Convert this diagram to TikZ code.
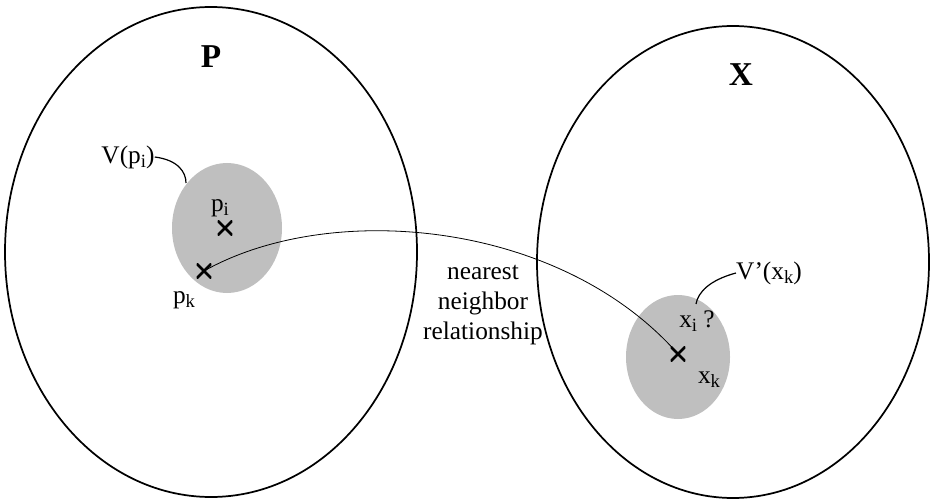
\documentclass[tikz,border=0pt]{standalone}
\usepackage{fontspec}
\setmainfont{Liberation Serif}
\newcommand{\lsub}[1]{\raisebox{-0.35ex}{\fontsize{14}{14}\selectfont #1}}
\begin{document}
\begin{tikzpicture}[x=0.75pt,y=-0.75pt,
  bigset/.style={draw,line width=1.3pt},
  cell/.style={fill=black!25,draw=none},
  lbl/.style={font=\fontsize{19}{22.5}\selectfont,inner sep=0pt},
  title/.style={font=\fontsize{25}{28}\selectfont\bfseries,inner sep=0pt},
  cross/.style={draw=none,inner sep=0pt,minimum size=11pt,path picture={
    \draw[line width=2pt] (path picture bounding box.south west)--(path picture bounding box.north east)
      (path picture bounding box.north west)--(path picture bounding box.south east);}},
  conn/.style={draw,line width=0.6pt}]
\useasboundingbox (0,0) rectangle (934,502);
% big ellipses
\draw[bigset] (211,252) ellipse [x radius=206, y radius=245];
\draw[bigset] (733,262) ellipse [x radius=196, y radius=236];
% gray cells
\fill[cell] (227,228) ellipse [x radius=55, y radius=65];
\fill[cell] (678,357) ellipse [x radius=52, y radius=62];
% crosses
\node[cross] (pi) at (225,228) {};
\node[cross] (pk) at (204,271) {};
\node[cross] (xk) at (678,354) {};
% titles
\node[title] (P) at (211,57) {P};
\node[title] (X) at (741,75) {X};
% labels
\node[lbl] (Vp) at (128,157) {V(p\lsub{i})};
\node[lbl] (pil) at (220,208) {p\lsub{i}};
\node[lbl] (pkl) at (184,300) {p\lsub{k}};
\node[lbl] (Vx) at (769,273) {V’(x\lsub{k})};
\node[lbl] (xil) at (697,321) {x\lsub{i} ?};
\node[lbl] (xkl) at (709,380) {x\lsub{k}};
\node[lbl,align=center] (nn) at (483,305) {nearest\\neighbor\\relationship};
% leaders
\coordinate (c1) at (186,183);
\coordinate (c2) at (696,304);
\draw[conn,line width=0.9pt] (Vp.east) .. controls (178,160) and (186,172) .. (c1);
\draw[conn,line width=0.9pt] (Vx.west) .. controls (710,280) and (698,292) .. (c2);
% main connector
\draw[conn] (pk.center) .. controls (330,200) and (560,220) .. (xk.center);
\end{tikzpicture}
\end{document}
